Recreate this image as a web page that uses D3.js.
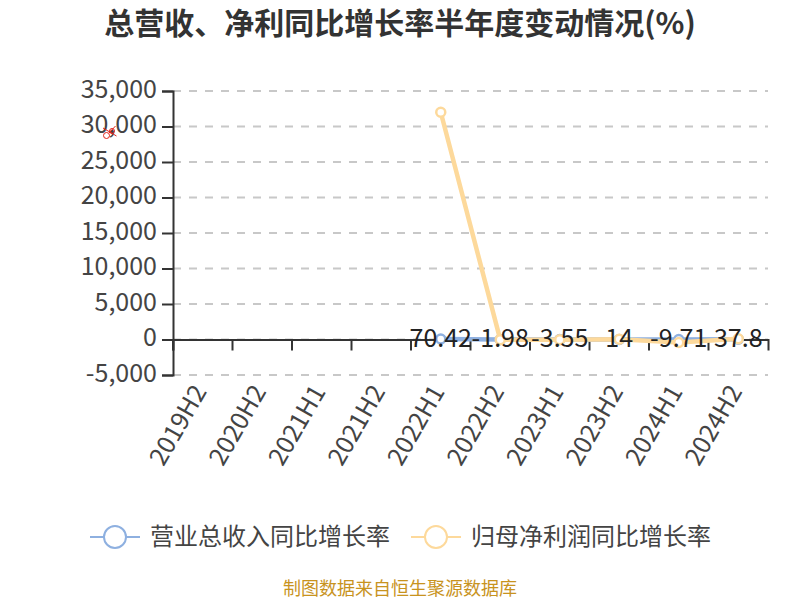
<!DOCTYPE html>
<html>
<head>
<meta charset="utf-8">
<script src="https://cdn.jsdelivr.net/npm/d3@7/dist/d3.min.js"></script>
<style>
    body { margin: 0; background: #fff; }
    text { font-family: "Noto Sans CJK SC", "Noto Sans", sans-serif; }
</style>
</head>
<body>
<div id="chart"></div>
<script>
let categories = ['2019H2', '2020H2', '2021H1', '2021H2', '2022H1', '2022H2', '2023H1', '2023H2', '2024H1', '2024H2'];
let revenueGrowth = [null, null, null, null, 70.42, -1.98, -3.55, 14, -9.71, 37.8];
let profitGrowth = [null, null, null, null, 32000, -20, -30, 40, -420, 100];
let yTicks = [-5000, 0, 5000, 10000, 15000, 20000, 25000, 30000, 35000];
let seriesNames = ['营业总收入同比增长率', '归母净利润同比增长率'];
let seriesColors = ['#8eb0e0', '#fdd99b'];

let svg = d3.select('#chart').append('svg')
    .attr('width', 800)
    .attr('height', 600)
    .style('display', 'block');

let xScale = d3.scaleBand()
    .domain(categories)
    .range([173, 768]);

let yScale = d3.scaleLinear()
    .domain([-5000, 35000])
    .range([375, 91]);

svg.append('text')
    .attr('x', 400)
    .attr('y', 34)
    .attr('text-anchor', 'middle')
    .style('font-size', '30px')
    .style('font-weight', 'bold')
    .style('fill', '#333')
    .text('总营收、净利同比增长率半年度变动情况(%)');

// grid
svg.append('g').selectAll('line').data(yTicks).enter().append('line')
    .attr('x1', 173)
    .attr('x2', 768)
    .attr('y1', d => yScale(d))
    .attr('y2', d => yScale(d))
    .style('stroke', '#c8c8c8')
    .style('stroke-width', 2)
    .style('stroke-dasharray', '8,8');

// y axis
let yAxis = d3.axisLeft(yScale)
    .tickValues(yTicks)
    .tickSize(11)
    .tickPadding(5)
    .tickFormat(d => d3.format(',')(d).replace('−', '-'));
let yGuide = svg.append('g')
    .attr('transform', 'translate(173,0)')
    .call(yAxis);
yGuide.selectAll('path').style('stroke', '#333').style('stroke-width', 2);
yGuide.selectAll('line').style('stroke', '#333').style('stroke-width', 2);
yGuide.selectAll('text')
    .attr('dy', '0.25em')
    .style('font-size', '25px')
    .style('font-family', '"Noto Sans CJK SC", sans-serif')
    .style('fill', '#444');

// x axis sits on zero
let xAxis = d3.axisBottom(xScale)
    .tickSize(11)
    .tickSizeOuter(11)
    .tickFormat(() => '');
let xGuide = svg.append('g')
    .attr('transform', 'translate(0,' + yScale(0) + ')')
    .call(xAxis);
xGuide.selectAll('.tick line')
    .attr('transform', d => 'translate(' + (-xScale.bandwidth() / 2) + ',0)');
xGuide.selectAll('path').style('stroke', '#333').style('stroke-width', 2);
xGuide.selectAll('line').style('stroke', '#333').style('stroke-width', 2);

// x labels are rotated and hang under the plot, not under the axis line
svg.append('g').selectAll('text').data(categories).enter().append('text')
    .attr('transform', d => 'translate(' + (xScale(d) + xScale.bandwidth() / 2 - 3) + ',387) rotate(-60)')
    .attr('text-anchor', 'end')
    .attr('dy', '0.35em')
    .style('font-size', '25px')
    .style('fill', '#444')
    .text(d => d);

// series
let line = d3.line()
    .defined(d => d.value !== null)
    .x(d => xScale(d.cat) + xScale.bandwidth() / 2)
    .y(d => yScale(d.value));

[revenueGrowth, profitGrowth].forEach(function (values, s) {
    let points = categories.map((c, i) => ({ cat: c, value: values[i] }));
    svg.append('path')
        .datum(points)
        .attr('d', line)
        .style('fill', 'none')
        .style('stroke', seriesColors[s])
        .style('stroke-width', 4.5);
    svg.append('g').selectAll('circle')
        .data(points.filter(d => d.value !== null))
        .enter().append('circle')
        .attr('cx', d => xScale(d.cat) + xScale.bandwidth() / 2)
        .attr('cy', d => yScale(d.value))
        .attr('r', 4.5)
        .style('fill', '#fff')
        .style('stroke', seriesColors[s])
        .style('stroke-width', 2.5);
});

// data labels
svg.append('g').selectAll('text')
    .data(categories.map((c, i) => ({ cat: c, value: revenueGrowth[i] })).filter(d => d.value !== null))
    .enter().append('text')
    .attr('x', d => xScale(d.cat) + xScale.bandwidth() / 2)
    .attr('y', 347)
    .attr('text-anchor', 'middle')
    .style('font-size', '25px')
    .style('fill', '#222')
    .text(d => d.value);

// scissors mark
let scissors = svg.append('g')
    .style('fill', 'none')
    .style('stroke', '#e2231a')
    .style('stroke-width', 1);
scissors.append('circle').attr('cx', 106.5).attr('cy', 135.5).attr('r', 3);
scissors.append('circle').attr('cx', 112).attr('cy', 131).attr('r', 2.5);
scissors.append('line').attr('x1', 103).attr('y1', 128).attr('x2', 116.5).attr('y2', 136);
scissors.append('line').attr('x1', 109).attr('y1', 133).attr('x2', 115.5).attr('y2', 126);

// legend
let legendX = [90, 411];
seriesNames.forEach(function (name, s) {
    let g = svg.append('g').attr('transform', 'translate(' + legendX[s] + ',537)');
    g.append('line')
        .attr('x1', 0)
        .attr('x2', 50)
        .style('stroke', seriesColors[s])
        .style('stroke-width', 2);
    g.append('circle')
        .attr('cx', 25)
        .attr('r', 11)
        .style('fill', '#fff')
        .style('stroke', seriesColors[s])
        .style('stroke-width', 2);
    g.append('text')
        .attr('x', 60)
        .attr('y', 8)
        .style('font-size', '24px')
        .style('fill', '#444')
        .text(name);
});

svg.append('text')
    .attr('x', 400)
    .attr('y', 595)
    .attr('text-anchor', 'middle')
    .style('font-size', '18px')
    .style('fill', '#c8931e')
    .text('制图数据来自恒生聚源数据库');
</script>
</body>
</html>
